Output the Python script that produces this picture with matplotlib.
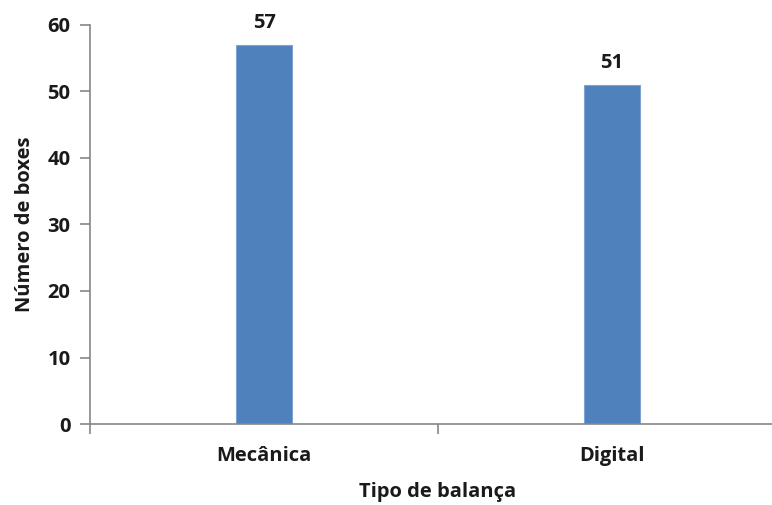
import matplotlib.pyplot as plt

# Dados do gráfico
tipos = ["Mecânica", "Digital"]
boxes = [57, 51]

plt.rcParams['font.family'] = ['Open Sans', 'DejaVu Sans']
plt.rcParams['font.weight'] = 'bold'

fs = 14.5

fig = plt.figure(figsize=(7.72, 5.05), dpi=100)
ax = fig.add_axes([90 / 772, 81 / 505, 696 / 772, 399 / 505])

pos = list(range(len(tipos)))
barras = ax.bar(pos, boxes, width=0.163, color="#4F81BD", edgecolor="#7FA3D3", linewidth=0.8)

for x, v in zip(pos, boxes):
    ax.text(x, v + 1.8, str(v), ha="center", va="bottom", fontsize=fs, fontweight="bold", color="#1a1a1a")

ax.set_xlim(-0.5, 1.5)
ax.set_ylim(0, 60)
ax.set_yticks(range(0, 61, 10))
ax.set_xticks(pos)
ax.set_xticklabels(tipos)
ax.set_xticks([-0.5, 0.5, 1.5], minor=True)

for lado in ["top", "right"]:
    ax.spines[lado].set_visible(False)
for lado in ["left", "bottom"]:
    ax.spines[lado].set_color("#868686")
    ax.spines[lado].set_linewidth(1.2)

ax.tick_params(axis="y", length=7, width=1.2, color="#868686", labelsize=fs, pad=7, labelcolor="#1a1a1a")
ax.tick_params(axis="x", which="major", length=0, labelsize=fs, pad=16, labelcolor="#1a1a1a")
ax.tick_params(axis="x", which="minor", length=7, width=1.2, color="#868686")

ax.set_xlabel("Tipo de balança", fontsize=fs, fontweight="bold", labelpad=11, color="#1a1a1a")
ax.set_ylabel("Número de boxes", fontsize=fs, fontweight="bold", labelpad=9, color="#1a1a1a")

plt.savefig("out.png", dpi=100)
